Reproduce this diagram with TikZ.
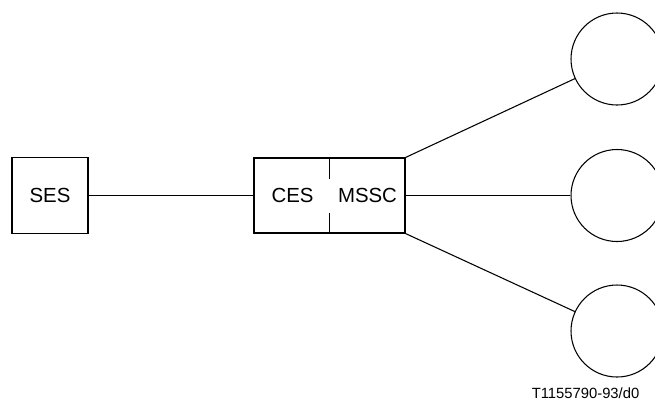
\documentclass[tikz,border=0pt]{standalone}
\usepackage{fontspec}
\setmainfont{Liberation Sans}
\usepackage{tikz}

\tikzset{
  blk/.style={draw, line width=0.8pt, inner sep=0pt, minimum width=57pt, minimum height=57pt},
  stn/.style={draw, circle, line width=0.8pt, inner sep=0pt, minimum size=69pt},
  lbl/.style={font=\fontsize{15.3}{18}\selectfont}
}

\begin{document}
\begin{tikzpicture}[x=0.75pt,y=-0.75pt]
    \clip (0,0) rectangle (655,401);
    \node [blk, lbl] (ses) at (50,195.5) {SES};
    \node [blk, minimum width=113.25pt, minimum height=56.25pt] (cbox) at (329.5,195.5) {};
    \node [lbl] (ces) at (292.5,195.5) {CES};
    \node [lbl] (mssc) at (367.5,195.5) {MSSC};
    \node [stn] (s1) at (617,59) {};
    \node [stn] (s2) at (617,195.5) {};
    \node [stn] (s3) at (617,331) {};
    \begin{scope}[line width=0.8pt]
    \draw (ses) -- (cbox);
    \draw (cbox.north) -- ++(0,22);
    \draw (cbox.south) -- ++(0,-21);
    \draw (cbox.north east) -- (s1);
    \draw (cbox.east) -- (s2);
    \draw (cbox.south east) -- (s3);
    \end{scope}
    \node [font=\fontsize{11.1}{13}\selectfont, anchor=east] (ref) at (644,393) {T1155790-93/d0};
\end{tikzpicture}
\end{document}
